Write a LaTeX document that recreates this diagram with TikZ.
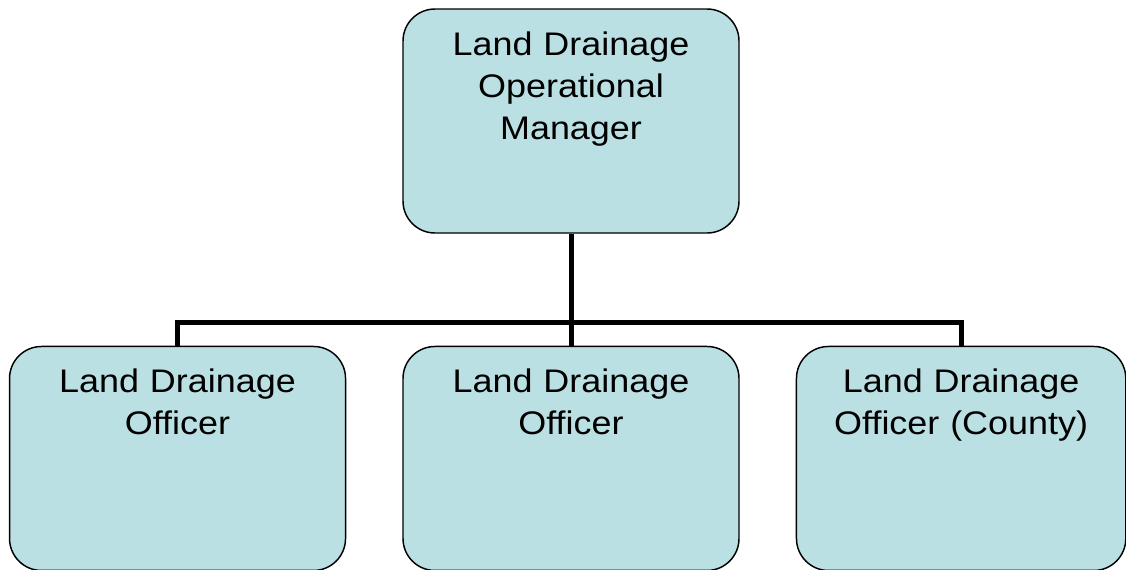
\documentclass[tikz,border=0pt]{standalone}
\usepackage{fontspec}
\setmainfont{Liberation Sans}[FakeStretch=1.1]
\usetikzlibrary{positioning, calc}
\definecolor{roleblue}{RGB}{187,224,227}

\begin{document}
\begin{tikzpicture}[
        node distance=84pt and 42pt,
        role/.style={rectangle, draw, line width=1.1pt, rounded corners=24pt, fill=roleblue, text width=236pt, inner xsep=8pt, inner ysep=16pt, text height=18.5pt, text depth=117.5pt, align=center, font=\fontsize{24.5}{31.5}\selectfont},
        link/.style={line width=3.75pt}
    ]
        \useasboundingbox (0,0) rectangle (844.5pt,-426.75pt);

        % 1. Manager
        \node (manager) [role] at (428.25pt,-90.75pt) {Land Drainage \\ Operational \\ Manager};

        % 2. Officers
        \node (officer_mid) [role, below=of manager] {Land Drainage \\ Officer};
        \node (officer_west) [role, left=of officer_mid] {Land Drainage \\ Officer};
        \node (officer_county) [role, right=of officer_mid, text width=231pt] {Land Drainage \\ Officer (County)};

        % Connections
        \coordinate (bus) at ($(manager.south)!0.795!(officer_mid.north)$);
        \draw [link] (manager.south) -- (officer_mid.north);
        \draw [link] (officer_west.north) |- (bus) -| (officer_county.north);
    \end{tikzpicture}
\end{document}
